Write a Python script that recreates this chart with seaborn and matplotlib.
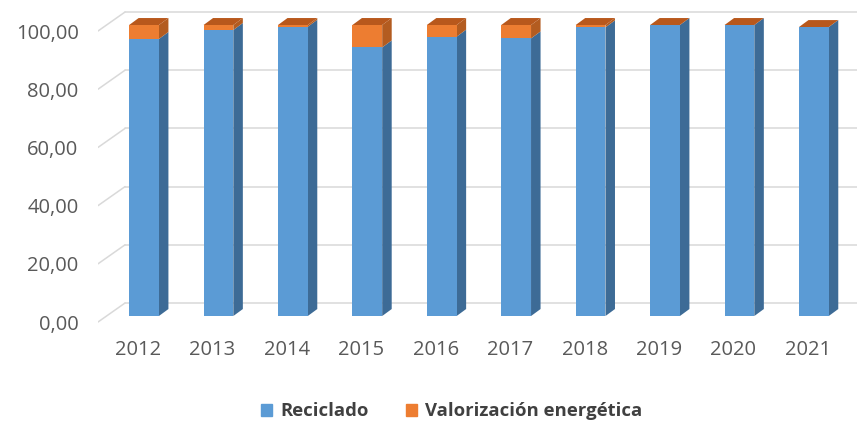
import pandas as pd
import matplotlib.pyplot as plt
import matplotlib.transforms as mtransforms
from matplotlib.patches import Polygon, Patch
import seaborn as sns

years = ['2012', '2013', '2014', '2015', '2016', '2017', '2018', '2019', '2020', '2021']
reciclado = [95.2, 98.3, 99.4, 92.3, 96.0, 95.4, 99.2, 100.0, 100.0, 99.3]
valorizacion = [4.8, 1.7, 0.6, 7.7, 4.0, 4.6, 0.8, 0.0, 0.0, 0.0]
y_ticks = [0, 20, 40, 60, 80, 100]

blue, blue_side = '#5B9BD5', '#3D6B96'
orange, orange_side, orange_top = '#ED7D31', '#B35C20', '#B8581C'
grid_col = '#D9D9D9'
txt_col = '#595959'

df = pd.DataFrame({'year': years, 'Reciclado': reciclado,
                   'Valorizacion': valorizacion})
df['total'] = df['Reciclado'] + df['Valorizacion']

sns.set_style('white')
plt.rcParams['font.family'] = ['Open Sans', 'DejaVu Sans']

fig = plt.figure(figsize=(8.59, 4.23), dpi=100)
ax = fig.add_axes([0.1141, 0.2357, 0.8836, 0.743])

# depth of the fake 3D look (data units)
dx, dy = 0.128, 2.4
gx0, gx1 = -0.618, -0.255
g_back, g_front = 4.47, -2.06

sns.barplot(data=df, x='year', y='total', color=orange, width=0.4,
            saturation=1, linewidth=0, ax=ax, zorder=3)
sns.barplot(data=df, x='year', y='Reciclado', color=blue, width=0.4,
            saturation=1, linewidth=0, ax=ax, zorder=3)

# back wall gridlines + diagonal left wall
for v in y_ticks:
    ax.plot([gx1, 9.58], [v + g_back, v + g_back], color=grid_col, lw=1.1, zorder=0)
    ax.plot([gx0, gx1], [v + g_front, v + g_back], color=grid_col, lw=1.1, zorder=0)

tot_bars = ax.containers[0].patches
rec_bars = ax.containers[1].patches
for tb, rb in zip(tot_bars, rec_bars):
    xl = tb.get_x()
    xr = xl + tb.get_width()
    r = rb.get_height()
    t = tb.get_height()
    ax.add_patch(Polygon([(xr, 0), (xr + dx, dy), (xr + dx, r + dy), (xr, r)],
                         closed=True, fc=blue_side, ec='none', zorder=2))
    if t > r:
        ax.add_patch(Polygon([(xr, r), (xr + dx, r + dy), (xr + dx, t + dy), (xr, t)],
                             closed=True, fc=orange_side, ec='none', zorder=2))
    ax.add_patch(Polygon([(xl, t), (xr, t), (xr + dx, t + dy), (xl + dx, t + dy)],
                         closed=True, fc=orange_top, ec='none', zorder=2))

ax.set_xlim(-0.618, 9.58)
ax.set_ylim(-2.5, 105.5)

ax.set_yticks([v + g_front for v in y_ticks])
ax.set_yticklabels([f'{v:.2f}'.replace('.', ',') for v in y_ticks])
ax.set_xlabel('')
ax.set_ylabel('')
ax.tick_params(axis='y', length=0, pad=14, labelsize=14.5, labelcolor=txt_col)
ax.tick_params(axis='x', length=0, pad=12, labelsize=14.5, labelcolor=txt_col)
shift = mtransforms.ScaledTranslation(-6 / 100, 0, fig.dpi_scale_trans)
for lab in ax.get_xticklabels():
    lab.set_transform(lab.get_transform() + shift)
sns.despine(ax=ax, left=True, bottom=True)

handles = [Patch(color=blue, label='Reciclado'),
           Patch(color=orange, label='Valorización energética')]
leg = fig.legend(handles=handles, loc='center', bbox_to_anchor=(0.526, 0.028),
                 ncol=2, frameon=False, handlelength=0.6, handleheight=0.6,
                 handletextpad=0.45, columnspacing=2.0,
                 prop={'size': 13.3, 'weight': 'bold'})
for t in leg.get_texts():
    t.set_color('#404040')

fig.savefig('out.png', dpi=100)
